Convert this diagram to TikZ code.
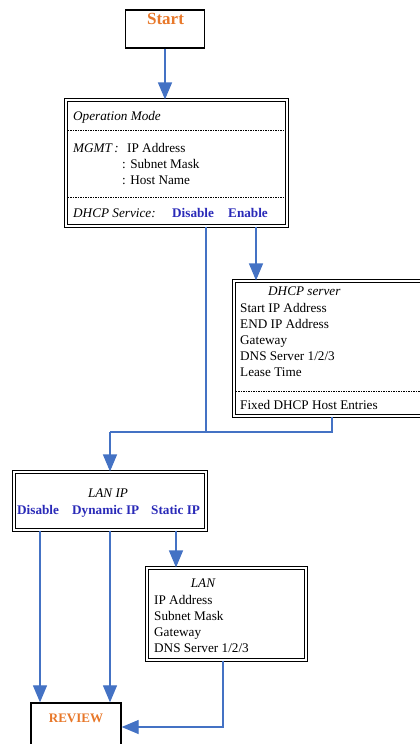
\documentclass[tikz,border=0pt]{standalone}
\usepackage{fontspec}
\setmainfont{Liberation Serif}
\usetikzlibrary{arrows.meta,calc}
\definecolor{flow}{HTML}{4472C4}
\definecolor{opt}{HTML}{2A2AB8}
\definecolor{warm}{HTML}{E8782A}
\begin{document}
\begin{tikzpicture}[x=1pt,y=-1pt,
  dbox/.style={draw, line width=1.1pt, double distance=1.7pt, inner sep=0pt, rectangle},
  sbox/.style={draw, line width=1.3pt, inner sep=0pt, rectangle},
  txt/.style={anchor=base west, inner sep=0pt, font=\fontsize{13.2}{15}\selectfont},
  it/.style={txt, font=\fontsize{13.2}{15}\selectfont\itshape},
  opttxt/.style={txt, font=\fontsize{13.2}{15}\selectfont\bfseries, text=opt},
  conn/.style={draw=flow, line width=1.2pt},
  arr/.style={conn, -{Triangle[length=17pt,width=14pt]}},
  dashline/.style={draw, line width=0.6pt, dash pattern=on 1.5pt off 1pt}]
\useasboundingbox (0,0) rectangle (420,744);
\clip (0,0) rectangle (420,744);
\fill[white] (0,0) rectangle (420,744);

% boxes
\node[sbox, minimum width=79pt, minimum height=38pt] (start) at (165,29) {};
\node[dbox, minimum width=221pt, minimum height=126pt] (opmode) at (176.5,163) {};
\node[dbox, minimum width=194pt, minimum height=135pt] (dhcp) at (331,348.5) {};
\node[dbox, minimum width=192pt, minimum height=58pt] (lanip) at (110,501) {};
\node[dbox, minimum width=159pt, minimum height=92pt] (lan) at (226.5,614) {};
\node[sbox, minimum width=90pt, minimum height=67pt] (review) at (76,736.5) {};

% texts
\node[anchor=base, inner sep=0pt, font=\fontsize{17}{20}\selectfont\bfseries, text=warm] (tstart) at (165.5,24) {Start};
\node[anchor=base, inner sep=0pt, font=\fontsize{13}{15}\selectfont\bfseries, text=warm] (treview) at (76,722) {REVIEW};

\node[it] (t1) at (73,120) {Operation Mode};
\node[it] (t2) at (73,152) {MGMT\,:};
\node[txt] (t3) at (127,152) {IP Address};
\node[txt] (t4) at (122,168) {: Subnet Mask};
\node[txt] (t5) at (122,184) {: Host Name};
\node[it] (t6) at (73,217) {DHCP Service:};
\node[opttxt] (t7) at (172,217) {Disable};
\node[opttxt] (t8) at (228,217) {Enable};
\coordinate (dl1) at (0,130);
\coordinate (dl2) at (0,197);
\draw[dashline] ($(opmode.west |- dl1)+(2.5,0)$) -- ($(opmode.east |- dl1)+(-2.5,0)$);
\draw[dashline] ($(opmode.west |- dl2)+(2.5,0)$) -- ($(opmode.east |- dl2)+(-2.5,0)$);

\node[it] (d0) at (268,295) {DHCP server};
\node[txt] (d1) at (240,312) {Start IP Address};
\node[txt] (d2) at (240,328) {END IP Address};
\node[txt] (d3) at (240,344) {Gateway};
\node[txt] (d4) at (240,360) {DNS Server 1/2/3};
\node[txt] (d5) at (240,376) {Lease Time};
\coordinate (dl3) at (0,391);
\draw[dashline] ($(dhcp.west |- dl3)+(2.5,0)$) -- ($(dhcp.east |- dl3)+(-2.5,0)$);
\node[txt] (d6) at (240,409) {Fixed DHCP Host Entries};

\node[anchor=base, inner sep=0pt, font=\fontsize{13.2}{15}\selectfont\itshape] (l0) at (108,497) {LAN IP};
\node[opttxt] (l1) at (17,514) {Disable};
\node[opttxt] (l2) at (72,514) {Dynamic IP};
\node[opttxt] (l3) at (151,514) {Static IP};

\node[anchor=base, inner sep=0pt, font=\fontsize{13.2}{15}\selectfont\itshape] (n0) at (203,587) {LAN};
\node[txt] (n1) at (154,604) {IP Address};
\node[txt] (n2) at (154,620) {Subnet Mask};
\node[txt] (n3) at (154,636) {Gateway};
\node[txt] (n4) at (154,652) {DNS Server 1/2/3};

% connector helper coordinates
\coordinate (dis) at (206,0);
\coordinate (en) at (256,0);
\coordinate (dhx) at (332,0);
\coordinate (join) at (110,432);
\coordinate (ldis) at (40,0);
\coordinate (ldyn) at (110,0);
\coordinate (lsta) at (176,0);
\coordinate (lanx) at (223,0);
\coordinate (revy) at (0,727);

% connectors
\draw[arr] (start.south) -- (start.south |- opmode.north);
\draw[arr] (en |- opmode.south) -- (en |- dhcp.north);
\draw[conn] (dis |- opmode.south) -- (dis |- join);
\draw[conn] (dhx |- dhcp.south) -- (dhx |- join) -- (join);
\draw[arr] (join) -- (join |- lanip.north);
\draw[arr] (ldis |- lanip.south) -- (ldis |- review.north);
\draw[arr] (ldyn |- lanip.south) -- (ldyn |- review.north);
\draw[arr] (lsta |- lanip.south) -- (lsta |- lan.north);
\draw[arr] (lanx |- lan.south) -- (lanx |- revy) -- (revy -| review.east);
\end{tikzpicture}
\end{document}
